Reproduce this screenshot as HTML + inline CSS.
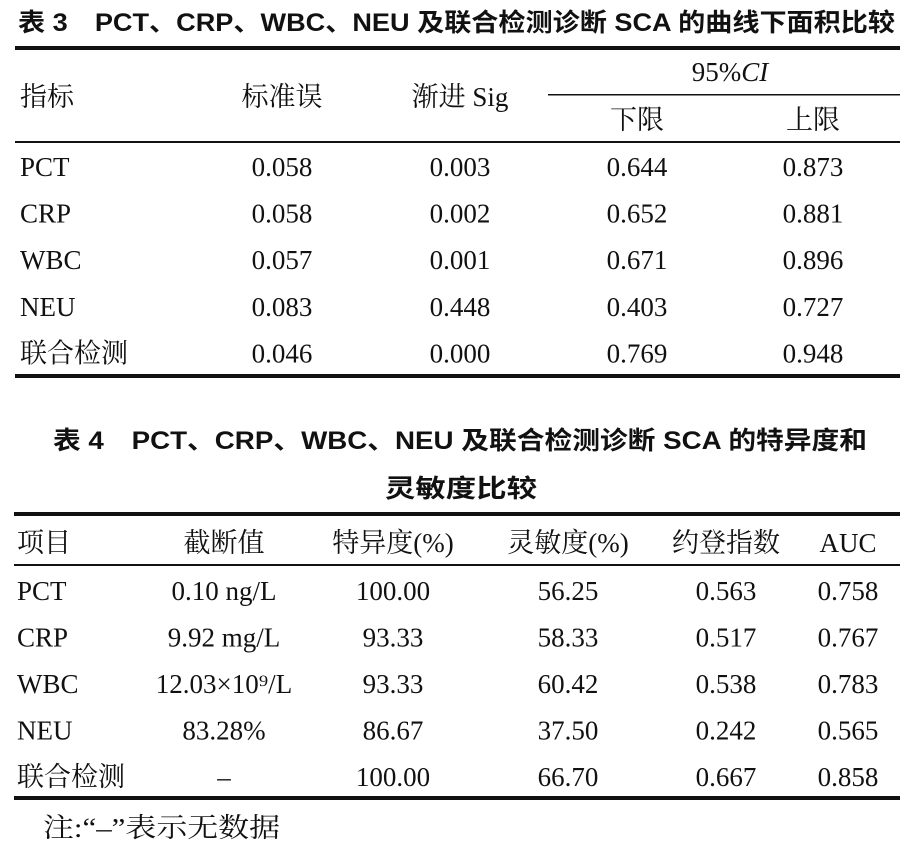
<!DOCTYPE html>
<html><head><meta charset="utf-8"><style>
html,body{margin:0;padding:0;background:#fff;}
svg{display:block;}
.t{font-family:"Liberation Sans","Noto Sans CJK SC",sans-serif;font-weight:bold;font-size:25px;fill:#111;}
.c{font-family:"Liberation Serif","Noto Serif CJK SC","Noto Sans CJK SC",serif;font-size:27px;fill:#111;}
.m{text-anchor:middle;}
</style></head><body>
<svg width="900" height="853" viewBox="0 0 900 853" xmlns="http://www.w3.org/2000/svg">
<rect width="900" height="853" fill="#fff"/>
<text class="t" x="18" y="31" textLength="877" lengthAdjust="spacingAndGlyphs">表 3　PCT、CRP、WBC、NEU 及联合检测诊断 SCA 的曲线下面积比较</text>
<rect x="15" y="46" width="885" height="4" fill="#111"/>
<text class="c" x="20" y="106">指标</text>
<text class="c m" x="282" y="106">标准误</text>
<text class="c m" x="460" y="106">渐进 Sig</text>
<text class="c m" x="730" y="81">95%<tspan font-style="italic">CI</tspan></text>
<rect x="548" y="94" width="352" height="1.5" fill="#111"/>
<text class="c m" x="637" y="129">下限</text>
<text class="c m" x="813" y="129">上限</text>
<rect x="15" y="141" width="885" height="2" fill="#111"/>
<g id="t3rows"></g>
<rect x="15" y="374" width="885" height="4" fill="#111"/>

<text class="t m" x="460" y="449" textLength="814" lengthAdjust="spacingAndGlyphs">表 4　PCT、CRP、WBC、NEU 及联合检测诊断 SCA 的特异度和</text>
<text class="t m" x="461" y="497" textLength="152" lengthAdjust="spacingAndGlyphs">灵敏度比较</text>
<rect x="14" y="512" width="886" height="4" fill="#111"/>
<text class="c" x="17" y="552">项目</text>
<text class="c m" x="224" y="552">截断值</text>
<text class="c m" x="393" y="552">特异度(%)</text>
<text class="c m" x="568" y="552">灵敏度(%)</text>
<text class="c m" x="726" y="552">约登指数</text>
<text class="c m" x="848" y="552">AUC</text>
<rect x="14" y="564" width="886" height="2" fill="#111"/>
<g id="t4rows"></g>
<rect x="14" y="796" width="886" height="4" fill="#111"/>
<text class="c" x="43" y="837" textLength="237" lengthAdjust="spacingAndGlyphs">注:“–”表示无数据</text>
</svg>
<script>
const t3Names=["PCT","CRP","WBC","NEU","联合检测"];
const t3SE=["0.058","0.058","0.057","0.083","0.046"];
const t3Sig=["0.003","0.002","0.001","0.448","0.000"];
const t3Lower=["0.644","0.652","0.671","0.403","0.769"];
const t3Upper=["0.873","0.881","0.896","0.727","0.948"];
const t4Names=["PCT","CRP","WBC","NEU","联合检测"];
const t4Cut=["0.10 ng/L","9.92 mg/L","12.03×10⁹/L","83.28%","–"];
const t4Spec=["100.00","93.33","93.33","86.67","100.00"];
const t4Sens=["56.25","58.33","60.42","37.50","66.70"];
const t4Youden=["0.563","0.517","0.538","0.242","0.667"];
const t4AUC=["0.758","0.767","0.783","0.565","0.858"];
const NS="http://www.w3.org/2000/svg";
function txt(g,x,y,s,mid){const e=document.createElementNS(NS,"text");e.setAttribute("x",x);e.setAttribute("y",y);e.setAttribute("class",mid?"c m":"c");e.textContent=s;g.appendChild(e);return e;}
const g3=document.getElementById("t3rows");
t3Names.forEach((n,i)=>{const y=176+i*46.6;
 let e=txt(g3,20,y,n,false);
 
 
 e=txt(g3,282,y,t3SE[i],true);
 
 
 e=txt(g3,460,y,t3Sig[i],true);
 
 
 e=txt(g3,637,y,t3Lower[i],true);
 
 
 e=txt(g3,813,y,t3Upper[i],true);
 
 
});
const g4=document.getElementById("t4rows");
t4Names.forEach((n,i)=>{const y=600+i*46.5;
 let e=txt(g4,17,y,n,false);
 
 
 e=txt(g4,224,y,t4Cut[i],true);
 
 
 e=txt(g4,393,y,t4Spec[i],true);
 
 
 e=txt(g4,568,y,t4Sens[i],true);
 
 
 e=txt(g4,726,y,t4Youden[i],true);
 
 
 e=txt(g4,848,y,t4AUC[i],true);
 
 
});
</script>
</body></html>
